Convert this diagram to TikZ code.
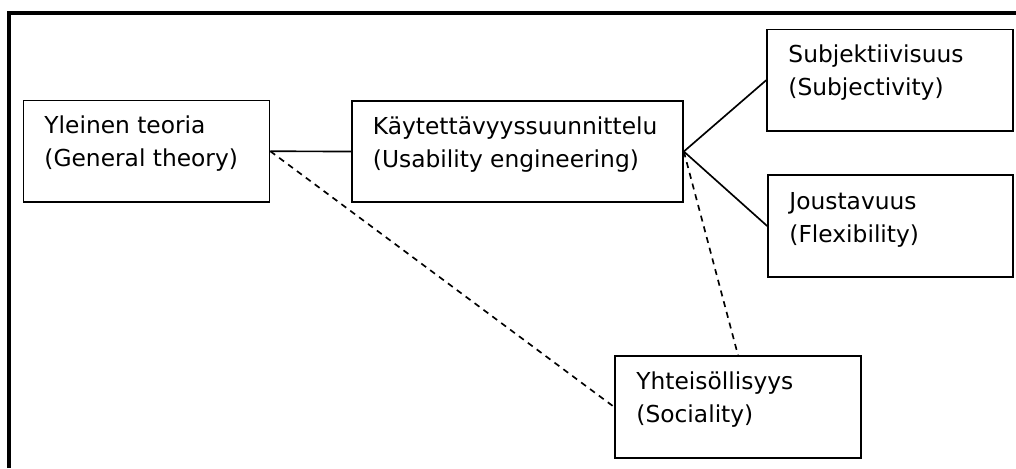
\documentclass[tikz,border=0pt]{standalone}
\usepackage{fontspec}
\setmainfont{DejaVu Sans}
\begin{document}
\begin{tikzpicture}[x=0.75pt, y=-0.75pt,
  box/.style n args={2}{draw, line width=1.25pt, inner sep=0pt,
    minimum width=#1*0.75pt, minimum height=#2*0.75pt},
  lbl/.style={anchor=base west, inner sep=0pt, align=left,
    font=\fontsize{17.5pt}{24.75pt}\selectfont},
  link/.style={line width=1.25pt},
  weak/.style={line width=1.25pt, dash pattern=on 4.5pt off 3.8pt}]
\useasboundingbox (0,0) rectangle (1016,468);

% outer frame (open to the right and bottom)
\draw[line width=2.4pt] (9,468) -- (9,13) -- (1016,13);

% boxes
\node[box={246}{101.5}] (gen) at (146.5,151.25) {};
\node[box={331}{101}]   (use) at (517.5,151.5) {};
\node[box={246}{101.5}] (sub) at (890,80.25) {};
\node[box={245}{102}]   (flex) at (890.5,226) {};
\node[box={246}{102}]   (soc) at (738,407) {};

% box texts (anchored on the baseline of the second line)
\node[lbl] (genT)  at ([xshift=21.5*0.75pt, yshift=-67*0.75pt]gen.north west)
  {Yleinen teoria\\(General theory)};
\node[lbl] (useT)  at ([xshift=21.5*0.75pt, yshift=-67*0.75pt]use.north west)
  {Käytettävyyssuunnittelu\\(Usability engineering)};
\node[lbl] (subT)  at ([xshift=22*0.75pt, yshift=-67*0.75pt]sub.north west)
  {Subjektiivisuus\\(Subjectivity)};
\node[lbl] (flexT) at ([xshift=22*0.75pt, yshift=-68*0.75pt]flex.north west)
  {Joustavuus\\(Flexibility)};
\node[lbl] (socT)  at ([xshift=22*0.75pt, yshift=-67*0.75pt]soc.north west)
  {Yhteisöllisyys\\(Sociality)};

% connectors
\draw[link] (gen.east) -- (use.west);
\draw[link] (use.east) -- (sub.west);
\draw[link] (use.east) -- (flex.west);
\draw[weak] (gen.east) -- (soc.west);
\draw[weak] (use.east) -- (soc.north);
\end{tikzpicture}
\end{document}
